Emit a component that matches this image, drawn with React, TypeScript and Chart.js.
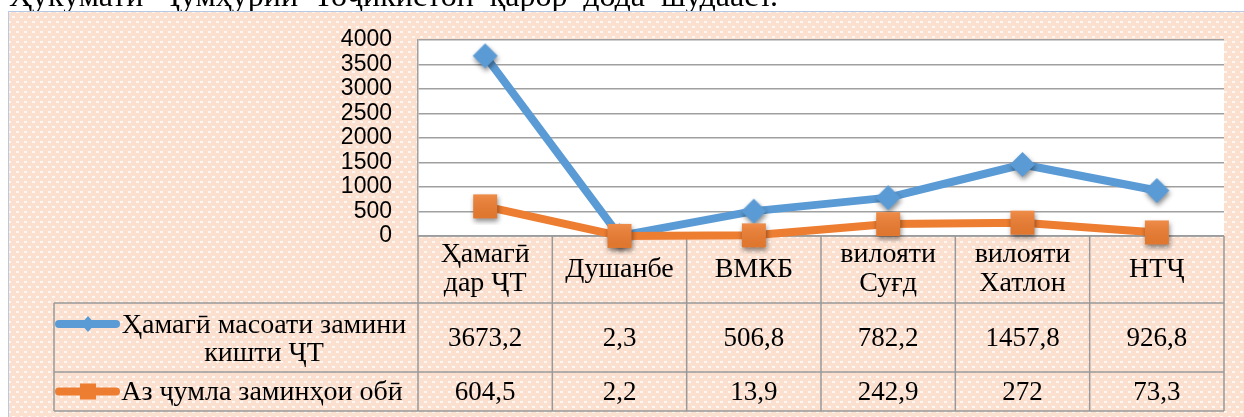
import React, { useEffect, useRef } from 'react';
import { Chart, registerables } from 'chart.js';

Chart.register(...registerables);

const categories: string[][] = [
  ['Ҳамагӣ', 'дар ҶТ'],
  ['Душанбе'],
  ['ВМКБ'],
  ['вилояти', 'Суғд'],
  ['вилояти', 'Хатлон'],
  ['НТҶ'],
];
const totalName: string[] = ['Ҳамагӣ масоати замини', 'кишти ҶТ'];
const irrigatedName: string[] = ['Аз ҷумла заминҳои обӣ'];
const totalArea: number[] = [3673.2, 2.3, 506.8, 782.2, 1457.8, 926.8];
const irrigatedArea: number[] = [604.5, 2.2, 13.9, 242.9, 272, 73.3];
const yMin = 0;
const yMax = 4000;
const yStep = 500;
const headerWords: string[] = ['Ҳукумати', 'Ҷумҳурии', 'Тоҷикистон', 'қарор', 'дода', 'шудааст.'];

const BLUE = '#5B9BD5';
const ORANGE = '#ED7D31';
const GRID = '#A0A0A0';
const TABLE_LINE = '#999999';
const SERIF = '"Liberation Serif", "Times New Roman", serif';

const fmt = (v: number) => String(v).replace('.', ',');

function makeMarker(kind: 'diamond' | 'square', half: number, color: string, shadow: boolean) {
  const pad = 7;
  const size = Math.ceil(half * 2 + pad * 2);
  const c = document.createElement('canvas');
  c.width = size;
  c.height = size;
  const g = c.getContext('2d') as CanvasRenderingContext2D;
  if (shadow) {
    g.shadowColor = 'rgba(0,0,0,0.45)';
    g.shadowBlur = 5;
    g.shadowOffsetY = 3;
    g.shadowOffsetX = 1;
  }
  const cx = size / 2;
  const cy = size / 2;
  g.fillStyle = color;
  g.beginPath();
  if (kind === 'diamond') {
    g.moveTo(cx, cy - half);
    g.lineTo(cx + half, cy);
    g.lineTo(cx, cy + half);
    g.lineTo(cx - half, cy);
    g.closePath();
  } else {
    g.rect(cx - half, cy - half, half * 2, half * 2);
  }
  g.fill();
  if (kind === 'square') {
    g.shadowColor = 'transparent';
    const grad = g.createLinearGradient(0, cy - half, 0, cy + half);
    grad.addColorStop(0, 'rgba(255,255,255,0.12)');
    grad.addColorStop(1, 'rgba(0,0,0,0.05)');
    g.fillStyle = grad;
    g.fillRect(cx - half, cy - half, half * 2, half * 2);
  }
  return c;
}

let patternCache: CanvasPattern | null = null;
function getPattern(ctx: CanvasRenderingContext2D) {
  if (patternCache) return patternCache;
  const p = document.createElement('canvas');
  p.width = 8;
  p.height = 10;
  const g = p.getContext('2d') as CanvasRenderingContext2D;
  g.fillStyle = '#FBE0D0';
  g.fillRect(0, 0, 8, 10);
  g.fillStyle = '#FFF7F2';
  g.fillRect(0, 1, 3, 2);
  g.fillRect(4, 6, 3, 2);
  patternCache = ctx.createPattern(p, 'repeat');
  return patternCache;
}

function drawKey(ctx: CanvasRenderingContext2D, y: number, color: string, kind: 'diamond' | 'square') {
  ctx.save();
  ctx.strokeStyle = color;
  ctx.lineWidth = 8;
  ctx.lineCap = 'round';
  ctx.beginPath();
  ctx.moveTo(59, y);
  ctx.lineTo(116, y);
  ctx.stroke();
  ctx.fillStyle = color;
  ctx.beginPath();
  if (kind === 'diamond') {
    ctx.moveTo(88, y - 8);
    ctx.lineTo(95, y);
    ctx.lineTo(88, y + 8);
    ctx.lineTo(81, y);
    ctx.closePath();
  } else {
    ctx.rect(80, y - 8, 16, 16);
  }
  ctx.fill();
  ctx.restore();
}

const decorPlugin = {
  id: 'decor',
  beforeDraw(chart: any) {
    const { ctx, chartArea: a } = chart;
    ctx.save();
    // cut-off paragraph text above the chart
    ctx.fillStyle = '#000';
    ctx.font = `32px ${SERIF}`;
    ctx.textBaseline = 'alphabetic';
    ctx.textAlign = 'left';
    const widths = headerWords.map((w) => ctx.measureText(w).width);
    const totalW = widths.reduce((s, w) => s + w, 0);
    const startX = 9;
    const endX = 778;
    const gap = (endX - startX - totalW) / (headerWords.length - 1);
    let x = startX;
    headerWords.forEach((w, i) => {
      ctx.fillText(w, x, 6);
      x += widths[i] + gap;
    });
    // chart background
    ctx.fillStyle = getPattern(ctx);
    ctx.fillRect(8, 11, 1244 - 8, 417 - 11);
    ctx.strokeStyle = '#B8C9E6';
    ctx.lineWidth = 1;
    ctx.strokeRect(8.5, 11.5, 1244, 420);
    // plot area
    ctx.fillStyle = '#FFFFFF';
    ctx.fillRect(a.left, a.top, a.right - a.left, a.bottom - a.top);
    ctx.restore();
  },
  beforeDatasetsDraw(chart: any) {
    const { ctx, chartArea: a } = chart;
    const xs = chart.scales.x;
    const n = categories.length;
    const colW = xs.getPixelForValue(1) - xs.getPixelForValue(0);
    const top = a.bottom;
    const r1 = top + 67;
    const r2 = top + 136;
    const bottom = top + 175;
    const legendLeft = 54;
    ctx.save();
    ctx.strokeStyle = TABLE_LINE;
    ctx.lineWidth = 1.5;
    ctx.beginPath();
    ctx.moveTo(a.left, top);
    ctx.lineTo(a.right, top);
    [r1, r2, bottom].forEach((y) => {
      ctx.moveTo(legendLeft, y);
      ctx.lineTo(a.right, y);
    });
    for (let i = 0; i <= n; i++) {
      const xx = i < n ? xs.getPixelForValue(i) - colW / 2 : xs.getPixelForValue(n - 1) + colW / 2;
      ctx.moveTo(xx, top);
      ctx.lineTo(xx, bottom);
    }
    ctx.moveTo(legendLeft, r1);
    ctx.lineTo(legendLeft, bottom);
    ctx.stroke();

    ctx.fillStyle = '#000';
    ctx.textAlign = 'center';
    ctx.textBaseline = 'middle';
    categories.forEach((lines, i) => {
      const cx = xs.getPixelForValue(i);
      ctx.font = `28px ${SERIF}`;
      if (lines.length === 2) {
        ctx.fillText(lines[0], cx, top + 19);
        ctx.fillText(lines[1], cx, top + 48);
      } else {
        ctx.fillText(lines[0], cx, top + 34);
      }
      ctx.font = `27px ${SERIF}`;
      ctx.fillText(fmt(totalArea[i]), cx, (r1 + r2) / 2 + 1);
      ctx.fillText(fmt(irrigatedArea[i]), cx, (r2 + bottom) / 2 + 1);
    });
    // legend cells
    ctx.font = `28px ${SERIF}`;
    const tx = 264;
    ctx.fillText(totalName[0], tx, r1 + 23);
    ctx.fillText(totalName[1], tx, r1 + 51);
    ctx.fillText(irrigatedName[0], tx - 2, (r2 + bottom) / 2 + 1);
    drawKey(ctx, r1 + 21, BLUE, 'diamond');
    drawKey(ctx, (r2 + bottom) / 2, ORANGE, 'square');
    ctx.restore();
  },
};

export default function App() {
  const canvasRef = useRef<HTMLCanvasElement | null>(null);

  useEffect(() => {
    const canvas = canvasRef.current;
    if (!canvas) return;
    const blueMarker = makeMarker('diamond', 12.5, BLUE, true);
    const orangeMarker = makeMarker('square', 12, ORANGE, true);
    const chart = new Chart(canvas, {
      type: 'line',
      data: {
        labels: categories.map((c) => c.join(' ')),
        datasets: [
          {
            label: totalName.join(' '),
            data: totalArea,
            borderColor: BLUE,
            backgroundColor: BLUE,
            borderWidth: 8,
            borderJoinStyle: 'round',
            borderCapStyle: 'round',
            pointStyle: blueMarker as any,
            pointRadius: 12,
            pointHoverRadius: 12,
            tension: 0,
            clip: false as any,
            order: 1,
          },
          {
            label: irrigatedName.join(' '),
            data: irrigatedArea,
            borderColor: ORANGE,
            backgroundColor: ORANGE,
            borderWidth: 8,
            borderJoinStyle: 'round',
            borderCapStyle: 'round',
            pointStyle: orangeMarker as any,
            pointRadius: 12,
            pointHoverRadius: 12,
            tension: 0,
            clip: false as any,
            order: 0,
          },
        ],
      },
      options: {
        animation: false,
        responsive: false,
        devicePixelRatio: 1,
        events: [],
        layout: { padding: { left: 298, right: 18, top: 39, bottom: 181 } },
        plugins: {
          legend: { display: false },
          tooltip: { enabled: false },
        },
        scales: {
          x: { type: 'category', display: false, offset: true },
          y: {
            min: yMin,
            max: yMax,
            ticks: {
              stepSize: yStep,
              autoSkip: false,
              color: '#000000',
              padding: 26,
              font: { family: '"Liberation Sans", Arial, sans-serif', size: 23 },
              callback: (v: any) => String(v),
            },
            grid: { color: GRID, lineWidth: 1.5, drawTicks: false },
            border: { display: true, color: GRID, width: 1.5 },
            afterFit: (s: any) => {
              s.width = 120;
            },
          },
        },
      },
      plugins: [decorPlugin],
    });
    return () => chart.destroy();
  }, []);

  return (
    <div style={{ position: 'absolute', left: 0, top: 0, width: 1244, height: 417, background: '#fff', overflow: 'hidden' }}>
      <canvas ref={canvasRef} width={1244} height={417} style={{ display: 'block', width: 1244, height: 417 }} />
    </div>
  );
}
